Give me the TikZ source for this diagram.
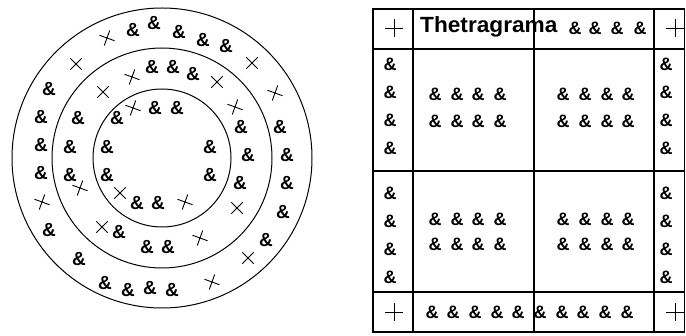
\documentclass[tikz,border=0pt]{standalone}
\usepackage{fontspec}
\usepackage{graphicx}
\setmainfont{Liberation Sans}
\usetikzlibrary{calc}

\begin{document}
\begin{tikzpicture}[x=1pt,y=-1pt,
    ring/.style={line width=1pt},
    grid/.style={line width=1.5pt},
    crs/.style={line width=0.9pt},
    sym/.style={font=\bfseries\fontsize{19}{19}\selectfont,inner sep=0pt},
    tsym/.style={font=\bfseries\fontsize{18}{18}\selectfont,inner sep=0pt}]
  \useasboundingbox (0,0) rectangle (686,336);
  \newcommand{\xmark}[5]{% name, x, y, angle, half size
    \coordinate (#1) at (#2,#3);
    \draw[crs,shift={(#1)},rotate=#4] (-#5,0) -- (#5,0) (0,-#5) -- (0,#5);
  }
  % rings
  \coordinate (c) at (162,158);
  \foreach \r in {150,110,69}
    \draw[ring] (c) circle (\r pt);
  \foreach [count=\i] \x/\y in {133/30,154/23,179/32,203/40,226/46,280/127,
      287/155,287/183,283/212,266/240,172/290,150/288,128/290,105/283,
      79/259,49/230,41/173,41/145,41/117,49/89}
    \node[sym] (o\i) at (\x,\y) {\&};
  \foreach [count=\i] \x/\y in {152/67,173/67,193/74,241/127,248/155,240/183,
      168/247,147/247,119/232,70/175,70/147,78/118}
    \node[sym] (m\i) at (\x,\y) {\&};
  \foreach [count=\i] \x/\y in {117/118,155/108,177/108,210/147,210/175,
      158/203,137/203,107/175,107/147}
    \node[sym] (n\i) at (\x,\y) {\&};
  \foreach [count=\i] \x/\y in {76/64,252/63,248/258,217/82,237/208,102/227,
      103/92,120/193}
    {\xmark{d\i}{\x}{\y}{45}{8}}
  \foreach [count=\i] \x/\y in {107/38,275/93,212/282,42/202,132/77,235/107,
      200/238,80/188,133/108,185/202}
    {\xmark{t\i}{\x}{\y}{-20}{8}}

  % table
  \coordinate (tl) at (373,9);
  \coordinate (br) at (684.5,332);
  \draw[grid] (tl) rectangle (br);
  \foreach \y in {49,171,292}
    \draw[grid] (373,\y) -- (684.5,\y);
  \foreach \x in {413,534,654}
    \draw[grid] (\x,9) -- (\x,332);
  \foreach [count=\i] \x/\y in {394/28,675/28,394/312,675/312}
    {\xmark{k\i}{\x}{\y}{0}{9}}
  \node[anchor=base west,inner sep=0pt,font=\bfseries\fontsize{22}{22}\selectfont]
    (title) at (420,33) {\scalebox{1.03}[1]{Thetragrama}};
  \foreach [count=\i] \x in {575,595,617,640}
    \node[tsym] (h\i) at (\x,28) {\&};
  \foreach [count=\i] \y in {64,92,120,148,193,221,249,277} {
    \node[tsym] (l\i) at (390,\y) {\&};
    \node[tsym] (r\i) at (666,\y) {\&};
  }
  \foreach [count=\i] \x in {435,457,478,500,563,585,607,628}
    \foreach [count=\j] \y in {94,121,219,244}
      \node[tsym] (g\i-\j) at (\x,\y) {\&};
  \foreach [count=\i] \x in {432,453,475,497,518,540,562,583,605,627}
    \node[tsym] (b\i) at (\x,312) {\&};
\end{tikzpicture}
\end{document}
